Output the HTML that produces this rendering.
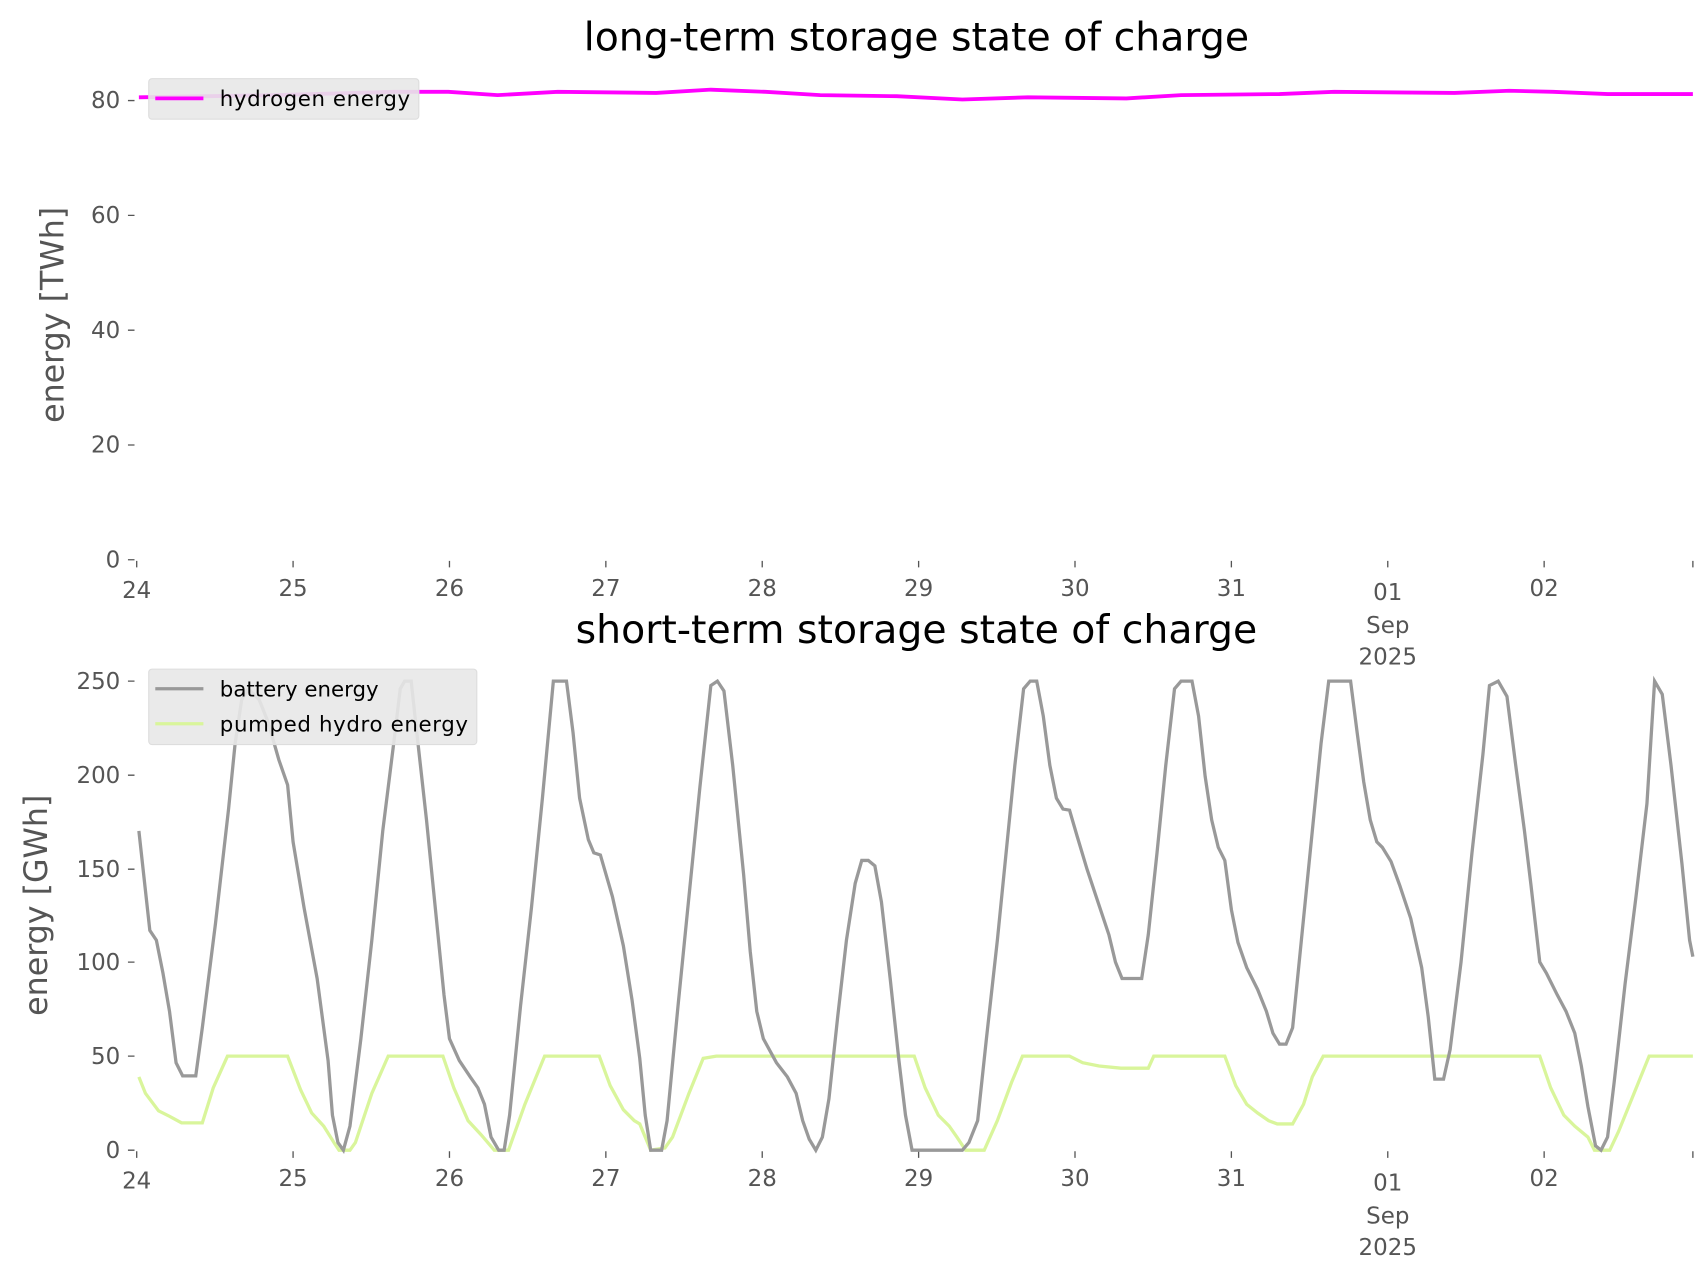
<!DOCTYPE html><html><head><style>body{margin:0;background:#fff}svg{display:block}text{font-family:"DejaVu Sans","Liberation Sans",sans-serif}</style></head><body>
<svg width="1706" height="1277" viewBox="0 0 1560 1168" preserveAspectRatio="none" xmlns="http://www.w3.org/2000/svg">
<g fill="#555" font-size="21">
<text x="838" y="46" font-size="36" fill="#000" text-anchor="middle">long-term storage state of charge</text>
<text x="838" y="588" font-size="36" fill="#000" text-anchor="middle">short-term storage state of charge</text>
<text transform="translate(58,288) rotate(-90)" text-anchor="middle" font-size="29">energy [TWh]</text>
<text transform="translate(43,828) rotate(-90)" text-anchor="middle" font-size="29">energy [GWh]</text>
<g text-anchor="end">
<text x="110" y="519">0</text><text x="110" y="414">20</text><text x="110" y="309">40</text><text x="110" y="204">60</text><text x="110" y="99">80</text>
<text x="110" y="1059">0</text><text x="110" y="973">50</text><text x="110" y="887">100</text><text x="110" y="802">150</text><text x="110" y="716">200</text><text x="110" y="630">250</text>
</g>
<g stroke="#555" stroke-width="1.2">
<path d="M117 512h6M117 407h6M117 302h6M117 197h6M117 92h6M117 1052h6M117 966h6M117 880h6M117 795h6M117 709h6M117 623h6"/>
<path d="M125 513v6M268 513v6M411 513v6M554 513v6M697 513v6M840 513v6M983 513v6M1126 513v6M1269 513v6M1412 513v6M1548 513v6"/>
<path d="M125 1053v6M268 1053v6M411 1053v6M554 1053v6M697 1053v6M840 1053v6M983 1053v6M1126 1053v6M1269 1053v6M1412 1053v6M1548 1053v6"/>
</g>
<g text-anchor="middle">
<text x="125" y="547">24</text><text x="268" y="545">25</text><text x="411" y="545">26</text><text x="554" y="545">27</text><text x="697" y="545">28</text><text x="840" y="545">29</text><text x="983" y="545">30</text><text x="1126" y="545">31</text><text x="1269" y="549">01</text><text x="1269" y="579">Sep</text><text x="1269" y="608">2025</text><text x="1412" y="545">02</text>
<text x="125" y="1087">24</text><text x="268" y="1085">25</text><text x="411" y="1085">26</text><text x="554" y="1085">27</text><text x="697" y="1085">28</text><text x="840" y="1085">29</text><text x="983" y="1085">30</text><text x="1126" y="1085">31</text><text x="1269" y="1089">01</text><text x="1269" y="1119">Sep</text><text x="1269" y="1148">2025</text><text x="1412" y="1085">02</text>
</g>
</g>
<polyline fill="none" stroke="#ff00ff" stroke-width="3.5" points="127,89 250,87 360,84 410,84 455,87 510,84 600,85 650,82 700,84 750,87 820,88 880,91 940,89 1030,90 1080,87 1170,86 1220,84 1330,85 1380,83 1420,84 1470,86 1548,86"/>
<polyline fill="none" stroke="#d9f59b" stroke-width="3" points="127,985 133,1000 145,1016 155,1021 166,1027 172,1027 185,1027 195,995 208,966 263,966 275,997 285,1018 296,1030 306,1046 310,1052 320,1052 325,1045 340,1000 355,966 405,966 415,995 428,1025 440,1038 452,1052 465,1052 480,1010 498,966 548,966 558,993 570,1015 580,1025 585,1028 595,1052 608,1050 615,1040 630,1000 643,968 655,966 836,966 846,995 858,1020 868,1030 875,1040 883,1052 900,1052 912,1025 925,990 935,966 978,966 990,972 1005,975 1025,977 1050,977 1055,966 1120,966 1130,993 1140,1010 1150,1018 1160,1025 1168,1028 1182,1028 1192,1010 1200,985 1210,966 1408,966 1418,995 1430,1020 1440,1030 1452,1040 1458,1052 1472,1052 1480,1035 1508,966 1548,966"/>
<polyline fill="none" stroke="#999" stroke-width="3" points="127,760 137,851 143,860 149,890 155,925 161,972 167,984 179,984 185,940 197,845 209,740 215,680 221,640 227,630 237,640 245,660 255,695 263,718 268,770 278,830 290,895 300,970 304,1020 309,1045 314,1052 320,1030 330,950 340,860 350,760 360,680 366,630 370,623 376,623 380,660 390,750 400,850 406,910 411,950 420,970 430,985 437,995 443,1010 449,1040 456,1052 461,1052 466,1020 476,920 486,830 496,730 506,623 518,623 524,670 530,730 538,768 543,780 549,782 560,820 570,865 578,915 585,968 590,1020 595,1052 605,1052 610,1025 620,920 630,820 640,720 650,627 656,623 662,632 670,700 680,800 686,870 692,925 698,950 710,972 720,985 728,1000 734,1025 740,1042 746,1052 752,1040 758,1005 766,930 774,860 782,808 788,787 794,787 800,792 806,825 814,895 822,970 828,1020 834,1052 880,1052 886,1045 894,1025 902,950 912,860 920,780 928,700 936,630 942,623 948,623 954,655 960,700 966,730 972,740 978,741 985,765 994,795 1004,825 1014,855 1020,880 1026,895 1044,895 1050,855 1058,780 1066,700 1074,630 1080,623 1090,623 1096,655 1102,710 1108,750 1114,775 1120,787 1126,832 1132,862 1140,885 1150,905 1158,925 1164,945 1170,955 1176,955 1182,940 1190,860 1200,760 1208,680 1215,623 1235,623 1241,670 1247,715 1253,750 1259,770 1264,775 1272,788 1280,810 1290,840 1300,885 1306,930 1312,987 1320,987 1326,960 1336,880 1346,780 1356,690 1362,627 1370,623 1378,637 1386,700 1394,760 1400,810 1408,880 1414,890 1424,910 1432,925 1440,945 1446,975 1452,1012 1459,1048 1464,1052 1470,1040 1476,990 1486,900 1496,820 1506,735 1513,623 1520,635 1528,700 1538,790 1545,860 1548,875"/>
<rect x="136" y="72" width="247" height="37" rx="3" fill="#e8e8e8" fill-opacity="0.9" stroke="#ddd"/>
<path d="M142 90h44" stroke="#ff00ff" stroke-width="3.5"/>
<text x="201" y="97" font-size="19.5" fill="#000" textLength="174">hydrogen energy</text>
<rect x="136" y="612" width="300" height="69" rx="3" fill="#e8e8e8" fill-opacity="0.9" stroke="#ddd"/>
<path d="M142 630h44" stroke="#999" stroke-width="3"/>
<path d="M142 662h44" stroke="#d9f59b" stroke-width="3"/>
<text x="201" y="637" font-size="19.5" fill="#000">battery energy</text>
<text x="201" y="669" font-size="19.5" fill="#000" textLength="227">pumped hydro energy</text>
</svg></body></html>
